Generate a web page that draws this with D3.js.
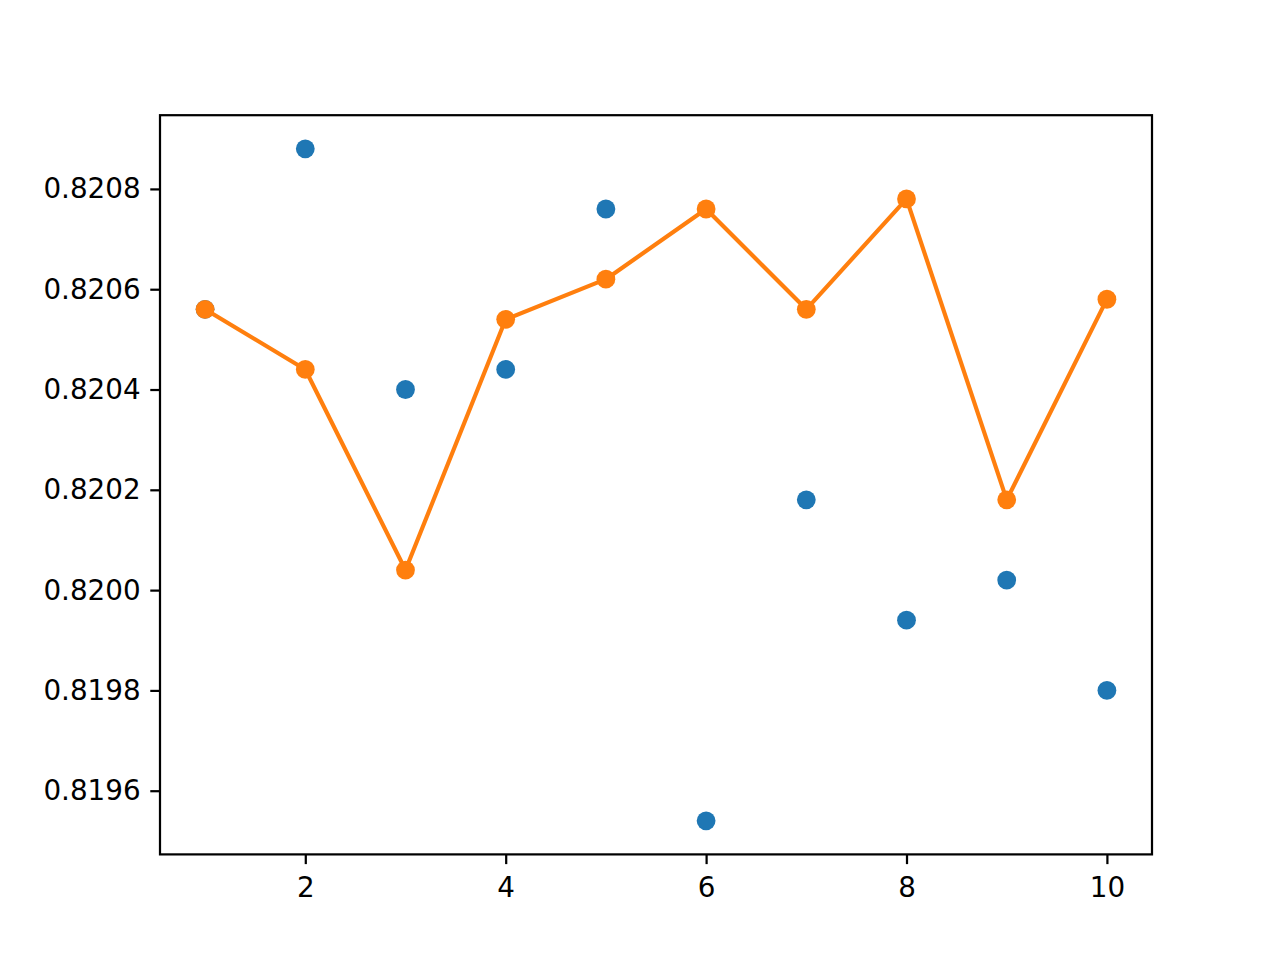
<!DOCTYPE html>
<html>
<head>
<meta charset="utf-8">
<script src="https://cdn.jsdelivr.net/npm/d3@7"></script>
<style>
  body { margin: 0; background: #fff; }
  svg text { font-family: "DejaVu Sans", sans-serif; }
</style>
</head>
<body>
<div id="chart"></div>
<script>
// data
var xs = [1, 2, 3, 4, 5, 6, 7, 8, 9, 10];
var blueVals = [0.82056, 0.82088, 0.82040, 0.82044, 0.82076, 0.81954, 0.82018, 0.81994, 0.82002, 0.81980];
var orangeVals = [0.82056, 0.82044, 0.82004, 0.82054, 0.82062, 0.82076, 0.82056, 0.82078, 0.82018, 0.82058];
var xTicks = [2, 4, 6, 8, 10];
var yTicks = [0.8196, 0.8198, 0.8200, 0.8202, 0.8204, 0.8206, 0.8208];

var W = 1280, H = 960;
// note: "top" is taken by window.top, so use other names
var axL = 160, axR = 1152, axT = 115.2, axB = 854.4;
var pt = 200 / 72;

var svg = d3.select("#chart").append("svg")
    .attr("width", W).attr("height", H);

// matplotlib style 5% margins
var xmin = d3.min(xs), xmax = d3.max(xs), xpad = (xmax - xmin) * 0.05;
var allY = blueVals.concat(orangeVals);
var ymin = d3.min(allY), ymax = d3.max(allY), ypad = (ymax - ymin) * 0.05;

var x = d3.scaleLinear().domain([xmin - xpad, xmax + xpad]).range([axL, axR]);
var y = d3.scaleLinear().domain([ymin - ypad, ymax + ypad]).range([axB, axT]);

var blue = xs.map(function (d, i) { return { x: d, y: blueVals[i] }; });
var orange = xs.map(function (d, i) { return { x: d, y: orangeVals[i] }; });

var plot = svg.append("g");

plot.selectAll("circle.blue")
    .data(blue).enter().append("circle")
    .attr("class", "blue")
    .attr("cx", function (d) { return x(d.x); })
    .attr("cy", function (d) { return y(d.y); })
    .attr("r", 9.4)
    .attr("fill", "#1f77b4");

var line = d3.line()
    .x(function (d) { return x(d.x); })
    .y(function (d) { return y(d.y); });

plot.append("path")
    .datum(orange)
    .attr("d", line)
    .attr("fill", "none")
    .attr("stroke", "#ff7f0e")
    .attr("stroke-width", 1.5 * pt)
    .attr("stroke-linejoin", "round")
    .attr("stroke-linecap", "square");

plot.selectAll("circle.orange")
    .data(orange).enter().append("circle")
    .attr("class", "orange")
    .attr("cx", function (d) { return x(d.x); })
    .attr("cy", function (d) { return y(d.y); })
    .attr("r", 9.4)
    .attr("fill", "#ff7f0e");

// axes
var xAxis = d3.axisBottom(x).tickValues(xTicks).tickSize(3.5 * pt).tickPadding(3.5 * pt + 3)
    .tickFormat(d3.format("d"));
var yAxis = d3.axisLeft(y).tickValues(yTicks).tickSize(3.5 * pt).tickPadding(3.5 * pt)
    .tickFormat(d3.format(".4f"));

var gx = svg.append("g").attr("transform", "translate(0," + axB + ")").call(xAxis);
var gy = svg.append("g").attr("transform", "translate(" + axL + ",0)").call(yAxis);

[gx, gy].forEach(function (g) {
  g.select(".domain").remove();
  g.selectAll(".tick line").attr("stroke", "#000").attr("stroke-width", 0.8 * pt);
  g.selectAll(".tick text").attr("fill", "#000").style("font-size", (10 * pt) + "px")
    .style("font-family", "'DejaVu Sans', sans-serif");
});

// frame
svg.append("rect")
    .attr("x", axL).attr("y", axT)
    .attr("width", axR - axL).attr("height", axB - axT)
    .attr("fill", "none")
    .attr("stroke", "#000")
    .attr("stroke-width", 0.8 * pt);
</script>
</body>
</html>
